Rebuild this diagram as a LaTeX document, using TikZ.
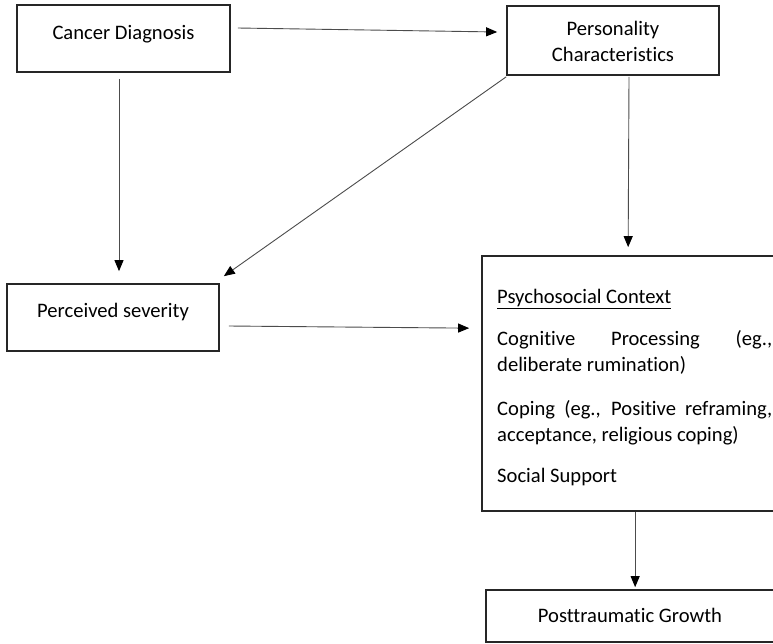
\documentclass[tikz,border=0pt]{standalone}
\usepackage{fontspec}
\setmainfont[Ligatures=NoCommon]{Carlito}
\usetikzlibrary{arrows.meta,calc}
\tikzset{
  box/.style={draw=black!85, line width=1.7pt, rectangle, inner sep=0pt},
  txt/.style={inner sep=0pt, font=\fontsize{20.6}{26}\selectfont, text=black},
  arr/.style={draw=black!70, line width=0.9pt, -{Triangle[length=11pt,width=9pt,color=black]}}
}
\begin{document}
\begin{tikzpicture}[x=1pt,y=-1pt]
\clip (0,0) rectangle (773,643);
\fill[white] (0,0) rectangle (773,643);
% boxes
\node[box, minimum width=213pt, minimum height=67pt] (cd) at (123.5,38.5) {};
\node[box, minimum width=212pt, minimum height=69pt] (pc) at (613,40.5) {};
\node[box, minimum width=212pt, minimum height=67pt] (ps) at (113,317.5) {};
\node[box, minimum width=320pt, minimum height=255pt] (psy) at (642,383.5) {};
\node[box, minimum width=320pt, minimum height=52pt] (ptg) at (646,616) {};
% texts
\node[txt, anchor=base] (cdt) at (123.5,39) {Cancer Diagnosis};
\node[txt, anchor=base] (pct1) at (613,35) {Personality};
\node[txt, anchor=base] (pct2) at (613,61) {Characteristics};
\node[txt, anchor=base] (pst) at (113,317) {Perceived severity};
\node[txt, anchor=base] (ptgt) at (630,622) {Posttraumatic Growth};
\node[txt, anchor=base west] (l1) at (497,303) {\underline{Psychosocial Context}};
\node[txt, anchor=base west] (l2) at (497,345) {\makebox[275pt][s]{Cognitive Processing (eg.,}};
\node[txt, anchor=base west] (l3) at (497,371) {deliberate rumination)};
\node[txt, anchor=base west] (l4) at (497,415) {\makebox[275pt][s]{Coping (eg., Positive reframing,}};
\node[txt, anchor=base west] (l5) at (497,441) {acceptance, religious coping)};
\node[txt, anchor=base west] (l6) at (497,482) {Social Support};
% connectors
\draw[arr] ($(cd.east)+(7,-10.5)$) -- ($(pc.west)+(-9,-8.5)$);
\draw[arr] ($(cd.south)+(-4.5,6)$) -- ($(ps.north)+(6,-12)$);
\draw[arr] ($(pc.south west)+(0,1)$) -- ($(ps.north east)+(4,-7)$);
\draw[arr] ($(pc.south)+(16,1)$) -- ($(psy.north west)+(147,-8)$);
\draw[arr] ($(ps.east)+(9,8.5)$) -- ($(psy.north west)+(-12,73)$);
\draw[arr] ($(psy.south west)+(154,0)$) -- ($(ptg.north west)+(150,-2)$);
\end{tikzpicture}
\end{document}
